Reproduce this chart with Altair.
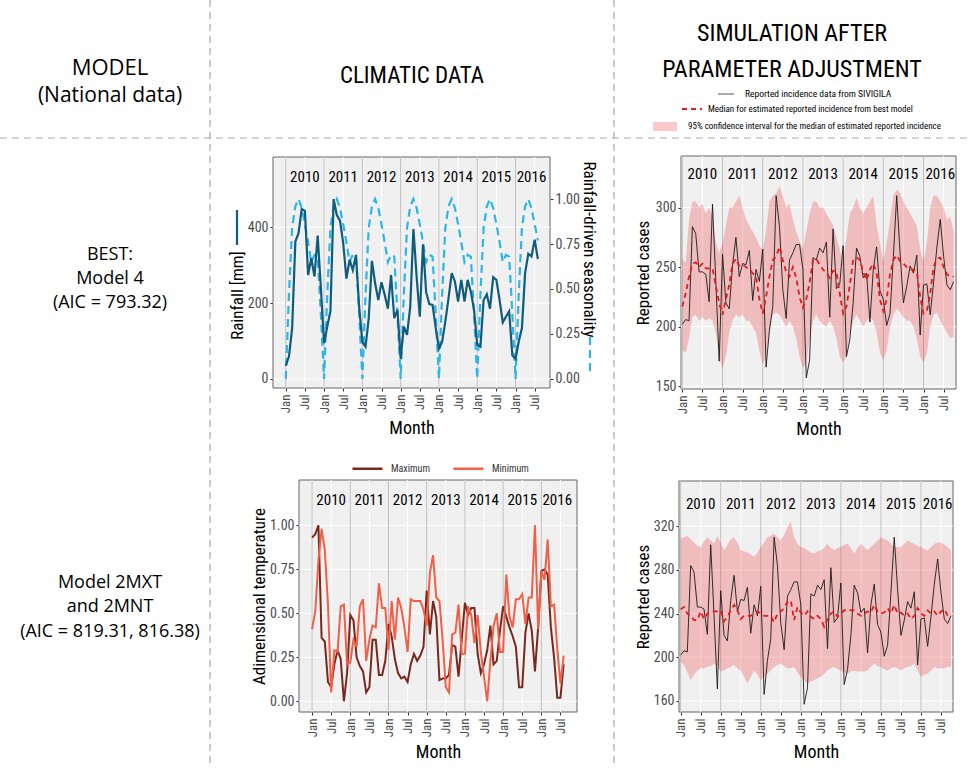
import altair as alt
import pandas as pd

# ------------------------------------------------------------------ data
years = ["2010", "2011", "2012", "2013", "2014", "2015", "2016"]
year_label_month = [6, 18, 30, 42, 54, 66, 77]
year_start_month = [0, 12, 24, 36, 48, 60, 72]
tick_months = [0, 6, 12, 18, 24, 30, 36, 42, 48, 54, 60, 66, 72, 78]

# monthly rainfall (mm), Jan 2010 - Aug 2016
rainfall_mm = [35, 59, 134, 362, 384, 448, 443, 274, 318, 270, 378, 240,
               94, 138, 179, 474, 432, 417, 358, 264, 314, 287, 327, 190,
               97, 85, 160, 311, 252, 208, 255, 222, 185, 274, 160, 182,
               53, 138, 116, 190, 395, 270, 164, 355, 228, 197, 195, 134,
               80, 98, 151, 213, 279, 257, 204, 261, 204, 261, 230, 182,
               90, 85, 208, 223, 185, 268, 261, 208, 149, 164, 178, 62,
               53, 98, 134, 279, 330, 323, 367, 316]
# rainfall-driven seasonality
seasonality = [0.0, 0.47, 0.84, 0.96, 1.0, 0.95, 0.86, 0.76, 0.65, 0.69, 0.68, 0.36,
               0.0, 0.47, 0.84, 0.96, 1.0, 0.95, 0.86, 0.76, 0.65, 0.69, 0.68, 0.36,
               0.0, 0.47, 0.84, 0.96, 1.0, 0.95, 0.86, 0.76, 0.65, 0.69, 0.68, 0.36,
               0.0, 0.47, 0.84, 0.96, 1.0, 0.95, 0.86, 0.76, 0.65, 0.69, 0.68, 0.36,
               0.0, 0.47, 0.84, 0.96, 1.0, 0.95, 0.86, 0.76, 0.65, 0.69, 0.68, 0.36,
               0.0, 0.47, 0.84, 0.96, 1.0, 0.95, 0.86, 0.76, 0.65, 0.69, 0.68, 0.36,
               0.0, 0.47, 0.84, 0.96, 1.0, 0.95, 0.86, 0.77]
# reported incidence (SIVIGILA), Jan 2010 - Oct 2016
reported = [202, 206, 205, 284, 278, 246, 246, 244, 221, 303, 238, 171,
            261, 220, 215, 252, 275, 242, 253, 252, 264, 222, 248, 238,
            265, 166, 197, 217, 310, 284, 231, 207, 256, 262, 269, 269,
            248, 157, 172, 258, 256, 266, 262, 271, 208, 282, 232, 236,
            268, 175, 189, 220, 266, 259, 241, 245, 204, 248, 267, 230,
            223, 201, 211, 259, 310, 262, 220, 234, 251, 245, 260, 193,
            235, 236, 210, 237, 267, 290, 259, 235, 231, 238]
# best model (Model 4)
best_median = [217, 228, 242, 253, 254, 250, 253, 249, 249, 249, 234, 220,
               210, 223, 235, 253, 257, 251, 252, 250, 248, 245, 242, 223,
               211, 225, 242, 256, 259, 267, 256, 246, 242, 250, 241, 225,
               216, 223, 237, 256, 257, 252, 248, 245, 241, 247, 246, 228,
               211, 217, 235, 256, 258, 256, 246, 239, 248, 253, 245, 223,
               213, 223, 244, 256, 260, 255, 253, 250, 248, 248, 246, 225,
               211, 213, 228, 250, 257, 258, 250, 244, 242, 242]
best_upper = [257, 254, 290, 305, 305, 300, 303, 295, 300, 293, 270, 262,
              270, 285, 300, 300, 305, 310, 300, 290, 285, 280, 275, 268,
              265, 280, 305, 310, 312, 318, 310, 300, 303, 290, 280, 272,
              265, 280, 295, 305, 305, 300, 300, 295, 290, 285, 275, 265,
              255, 275, 295, 300, 308, 300, 295, 300, 305, 310, 285, 270,
              255, 270, 290, 310, 315, 312, 305, 300, 295, 290, 285, 265,
              255, 270, 300, 310, 310, 305, 300, 290, 292, 280]
best_lower = [180, 178, 190, 208, 210, 205, 208, 205, 207, 205, 195, 175,
              165, 175, 195, 205, 210, 208, 210, 205, 205, 200, 195, 180,
              168, 175, 195, 210, 212, 210, 205, 200, 205, 200, 190, 175,
              165, 170, 190, 205, 210, 205, 202, 200, 205, 200, 190, 175,
              170, 175, 195, 205, 210, 205, 200, 205, 208, 205, 195, 178,
              172, 180, 200, 210, 215, 212, 208, 205, 205, 200, 190, 175,
              170, 178, 200, 210, 212, 205, 200, 195, 190, 192]
# adimensional temperature, Jan 2010 - Aug 2016
temp_max = [0.93, 0.95, 1.0, 0.36, 0.34, 0.11, 0.08, 0.21, 0.29, 0.24, 0.0, 0.16,
            0.49, 0.46, 0.25, 0.20, 0.17, 0.05, 0.08, 0.35, 0.35, 0.15, 0.15, 0.23,
            0.44, 0.37, 0.24, 0.16, 0.13, 0.14, 0.11, 0.21, 0.27, 0.23, 0.26, 0.31,
            0.63, 0.38, 0.57, 0.48, 0.12, 0.13, 0.13, 0.15, 0.32, 0.31, 0.14, 0.35,
            0.56, 0.49, 0.53, 0.53, 0.27, 0.16, 0.21, 0.29, 0.43, 0.21, 0.23, 0.40,
            0.54, 0.48, 0.42, 0.37, 0.31, 0.08, 0.08, 0.39, 0.50, 0.40, 0.17, 0.42,
            0.74, 0.75, 0.72, 0.42, 0.25, 0.02, 0.02, 0.21]
temp_min = [0.41, 0.51, 0.80, 0.98, 0.86, 0.55, 0.05, 0.29, 0.28, 0.54, 0.55, 0.21,
            0.22, 0.35, 0.31, 0.54, 0.58, 0.23, 0.35, 0.43, 0.42, 0.67, 0.53, 0.53,
            0.29, 0.57, 0.35, 0.59, 0.53, 0.42, 0.28, 0.58, 0.57, 0.57, 0.57, 0.52,
            0.43, 0.73, 0.83, 0.59, 0.57, 0.35, 0.08, 0.05, 0.38, 0.39, 0.55, 0.27,
            0.27, 0.54, 0.49, 0.33, 0.49, 0.28, 0.14, 0.0, 0.23, 0.43, 0.50, 0.28,
            0.28, 0.72, 0.48, 0.42, 0.58, 0.58, 0.61, 0.44, 0.59, 0.59, 1.0, 0.41,
            0.74, 0.69, 0.92, 0.54, 0.55, 0.30, 0.10, 0.26]
# Model 2MXT / 2MNT
mxt_median = [244, 246, 240, 238, 234, 234, 242, 235, 240, 241, 242, 242,
              243, 233, 237, 243, 248, 243, 235, 238, 238, 238, 240, 242,
              240, 238, 238, 238, 232, 240, 242, 245, 251, 252, 234, 246,
              241, 238, 242, 237, 235, 238, 235, 228, 235, 240, 242, 237,
              240, 243, 244, 243, 243, 240, 238, 240, 242, 241, 248, 242,
              240, 241, 245, 240, 248, 240, 241, 238, 240, 235, 238, 245,
              240, 238, 243, 240, 242, 238, 242, 244, 238, 240]
mxt_upper = [309, 310, 311, 308, 305, 302, 301, 306, 310, 307, 304, 311,
             305, 298, 303, 308, 310, 305, 298, 297, 296, 294, 292, 296,
             301, 305, 310, 311, 313, 310, 307, 312, 319, 324, 310, 304,
             301, 300, 298, 296, 295, 297, 298, 300, 304, 300, 298, 300,
             301, 303, 304, 300, 295, 300, 304, 301, 298, 301, 304, 307,
             310, 308, 307, 304, 301, 301, 301, 304, 307, 305, 304, 302,
             301, 299, 298, 301, 304, 305, 305, 303, 301, 298]
mxt_lower = [196, 193, 186, 179, 184, 188, 190, 190, 191, 192, 194, 192,
             187, 188, 190, 191, 193, 190, 188, 182, 176, 182, 188, 184,
             179, 182, 185, 188, 191, 193, 194, 192, 190, 190, 191, 186,
             182, 179, 176, 178, 179, 181, 182, 185, 188, 190, 191, 189,
             188, 186, 185, 187, 188, 187, 187, 187, 188, 191, 194, 192,
             191, 189, 188, 190, 191, 190, 188, 190, 191, 192, 194, 188,
             182, 184, 185, 188, 191, 190, 190, 190, 191, 191]

# ------------------------------------------------------------------ styles
W, H = 970, 768
FONT_C = "Liberation Sans Narrow, Roboto Condensed, DejaVu Sans Condensed, sans-serif"
FONT_R = "Open Sans, Noto Sans, sans-serif"
BG = "#F0F0F0"
one = pd.DataFrame({"k": [0]})


def scales(xdom, xr, ydom, yr):
    return (alt.Scale(domain=xdom, range=xr, nice=False, zero=False),
            alt.Scale(domain=ydom, range=yr, nice=False, zero=False))


def month_axis(bottom_px):
    return alt.Axis(
        orient="bottom", offset=bottom_px - H, values=tick_months,
        labelExpr="datum.value % 12 == 0 ? 'Jan' : 'Jul'",
        labelAngle=270, labelAlign="right", labelBaseline="middle",
        labelFontSize=13, labelPadding=3, labelFlush=False, labelOverlap=False,
        grid=False, title="Month", titleFontSize=18, titleY=40, titleBaseline="middle",
    )


def value_axis(px, values, title, title_dx, orient="left", fmt=None, title_y=None):
    kw = dict(orient=orient, offset=(-px if orient == "left" else px - W), values=values,
              labelFontSize=14, labelFlush=False, labelOverlap=False, grid=False,
              title=title, titleFontSize=17, titleX=title_dx, titleBaseline="middle")
    if fmt:
        kw["format"] = fmt
    if title_y is not None:
        kw["titleY"] = title_y
    return alt.Axis(**kw)


def xd(v, xs):
    return alt.XDatum(v, scale=xs, axis=None, type="quantitative")


def yd(v, ys):
    return alt.YDatum(v, scale=ys, axis=None, type="quantitative")


def panel_base(xs, ys, xdom, ydom, yvals, ylab_v):
    bg = alt.Chart(one).mark_rect(fill=BG, stroke="#646464", strokeWidth=1).encode(
        x=xd(xdom[0], xs), x2=alt.X2Datum(xdom[1]), y=yd(ydom[0], ys), y2=alt.Y2Datum(ydom[1]))
    gy = alt.Chart(pd.DataFrame({"v": yvals})).mark_rule(color="white", strokeWidth=1).encode(
        y=alt.Y("v:Q", scale=ys, axis=None), x=xd(xdom[0], xs), x2=alt.X2Datum(xdom[1]))
    gx = alt.Chart(pd.DataFrame({"m": tick_months})).mark_rule(color="white", strokeWidth=1).encode(
        x=alt.X("m:Q", scale=xs, axis=None), y=yd(ydom[0], ys), y2=alt.Y2Datum(ydom[1]))
    vl = alt.Chart(pd.DataFrame({"m": year_start_month})).mark_rule(color="#BDBDBD", strokeWidth=1).encode(
        x=alt.X("m:Q", scale=xs, axis=None), y=yd(ydom[0], ys), y2=alt.Y2Datum(ydom[1]))
    ylab = alt.Chart(pd.DataFrame({"m": year_label_month, "v": [ylab_v] * len(years), "year": years})
                     ).mark_text(font=FONT_C, fontSize=15, color="black", baseline="middle").encode(
        x=alt.X("m:Q", scale=xs, axis=None), y=alt.Y("v:Q", scale=ys, axis=None), text="year:N")
    return [bg, gy, gx, vl, ylab]


def txt(s, x, y, size, font, align="center", color="black"):
    return alt.Chart(one).mark_text(
        text=s, fontSize=size, font=font, align=align, baseline="middle", color=color
    ).encode(x=alt.value(x), y=alt.value(y))


def hrule(x1, x2, y, **kw):
    return alt.Chart(one).mark_rule(**kw).encode(x=alt.value(x1), x2=alt.value(x2), y=alt.value(y))


def vrule(x, y1, y2, **kw):
    return alt.Chart(one).mark_rule(**kw).encode(x=alt.value(x), y=alt.value(y1), y2=alt.value(y2))


layers = []

# ------------------------------------------------------------------ decorations
DASH = dict(color="#A8A8A8", strokeDash=[7, 5], strokeWidth=1.2)
layers += [
    hrule(0, 970, 138, **DASH),
    vrule(210, 0, 768, **DASH),
    vrule(614, 0, 768, **DASH),
    txt("MODEL", 110, 68, 22, FONT_R),
    txt("(National data)", 110, 96, 21, FONT_R),
    txt("CLIMATIC DATA", 412, 76, 23, FONT_C),
    txt("SIMULATION AFTER", 792, 34, 24, FONT_C),
    txt("PARAMETER ADJUSTMENT", 792, 70, 24, FONT_C),
    hrule(718, 734, 94, color="#555555", strokeWidth=1),
    txt("Reported incidence data from SIVIGILA", 745, 94, 9.5, FONT_C, align="left"),
    hrule(682, 702, 109, color="#E41A1C", strokeWidth=1.8, strokeDash=[5, 4]),
    txt("Median for estimated reported incidence from best model", 708, 109, 9, FONT_C, align="left"),
    alt.Chart(one).mark_rect(color="#F01E1E", opacity=0.24).encode(
        x=alt.value(653), x2=alt.value(677), y=alt.value(122), y2=alt.value(131)),
    txt("95% confidence interval for the median of estimated reported incidence", 688, 126, 9, FONT_C, align="left"),
    txt("BEST:", 110, 255, 18, FONT_R),
    txt("Model 4", 110, 279, 18, FONT_R),
    txt("(AIC = 793.32)", 110, 303, 18, FONT_R),
    txt("Model 2MXT", 110, 583, 18, FONT_R),
    txt("and 2MNT", 110, 607, 18, FONT_R),
    txt("(AIC = 819.31, 816.38)", 110, 632, 18, FONT_R),
]

# ------------------------------------------------------------------ panel 1: rainfall
x1dom, y1dom = [-4, 82.8], [-24, 585]
xs1, ys1 = scales(x1dom, [273, 550], y1dom, [388, 157])
ys1s = alt.Scale(domain=[-0.0506, 1.234], range=[388, 157], nice=False, zero=False)
rain_df = pd.DataFrame({"m": list(range(len(rainfall_mm))), "v": rainfall_mm})
seas_df = pd.DataFrame({"m": list(range(len(seasonality))), "v": seasonality})
layers += panel_base(xs1, ys1, x1dom, y1dom, [0, 200, 400], 533)
layers += [
    alt.Chart(seas_df).mark_line(color="#2BB5E8", strokeWidth=2.2, strokeDash=[8, 5]).encode(
        x=alt.X("m:Q", scale=xs1, axis=None),
        y=alt.Y("v:Q", scale=ys1s,
                axis=value_axis(550, [0, 0.25, 0.5, 0.75, 1.0], "Rainfall-driven seasonality", 38,
                                orient="right", fmt=".2f", title_y=249))),
    alt.Chart(rain_df).mark_line(color="#0F5C7D", strokeWidth=2.2).encode(
        x=alt.X("m:Q", scale=xs1, axis=month_axis(388)),
        y=alt.Y("v:Q", scale=ys1, axis=value_axis(273, [0, 200, 400], "Rainfall [mm]", -36, title_y=295))),
    vrule(237, 210, 245, color="#0F5C7D", strokeWidth=2.2),
    vrule(590, 337, 373, color="#2BB5E8", strokeWidth=2.2, strokeDash=[8, 5]),
]


# ------------------------------------------------------------------ simulation panels
def sim_panel(median, upper, lower, xdom, xr, ydom, yr, yvals, ylab_v, title_dx):
    xs, ys = scales(xdom, xr, ydom, yr)
    n = len(reported)
    df = pd.DataFrame({"m": list(range(n)), "v": median, "hi": upper, "lo": lower})
    obs = pd.DataFrame({"m": list(range(n)), "v": reported})
    out = panel_base(xs, ys, xdom, ydom, yvals, ylab_v)
    out.insert(4, alt.Chart(df).mark_area(color="#F01E1E", opacity=0.24).encode(
        x=alt.X("m:Q", scale=xs, axis=None), y=alt.Y("hi:Q", scale=ys, axis=None), y2="lo:Q"))
    out += [
        alt.Chart(obs).mark_line(color="#1A1A1A", strokeWidth=0.9).encode(
            x=alt.X("m:Q", scale=xs, axis=month_axis(yr[0])),
            y=alt.Y("v:Q", scale=ys, axis=value_axis(xr[0], yvals, "Reported cases", title_dx))),
        alt.Chart(df).mark_line(color="#E41A1C", strokeWidth=1.8, strokeDash=[5, 4]).encode(
            x=alt.X("m:Q", scale=xs, axis=None), y=alt.Y("v:Q", scale=ys, axis=None)),
    ]
    return out


layers += sim_panel(best_median, best_upper, best_lower, [-0.4, 81.7], [681, 956],
                    [147.7, 343.3], [389, 156], [150, 200, 250, 300], 328, -38)
layers += sim_panel(mxt_median, mxt_upper, mxt_lower, [-0.5, 81.6], [679, 953],
                    [149.9, 361.4], [712, 481], [160, 200, 240, 280, 320], 340.7, -36)

# ------------------------------------------------------------------ panel 3: temperature
x3dom, y3dom = [-4.1, 83.2], [-0.061, 1.258]
xs3, ys3 = scales(x3dom, [299, 577], y3dom, [712, 480])
nT = len(temp_max)
temp_df = pd.DataFrame({
    "m": list(range(nT)) * 2,
    "v": temp_max + temp_min,
    "series": ["Maximum"] * nT + ["Minimum"] * nT,
})
layers += panel_base(xs3, ys3, x3dom, y3dom, [0, 0.25, 0.5, 0.75, 1.0], 1.144)
layers += [
    alt.Chart(temp_df).mark_line(strokeWidth=2).encode(
        x=alt.X("m:Q", scale=xs3, axis=month_axis(712)),
        y=alt.Y("v:Q", scale=ys3, axis=value_axis(299, [0, 0.25, 0.5, 0.75, 1.0],
                                                   "Adimensional temperature", -40, fmt=".2f")),
        color=alt.Color("series:N",
                        scale=alt.Scale(domain=["Maximum", "Minimum"], range=["#7A281D", "#F25F47"]),
                        legend=alt.Legend(orient="none", legendX=351, legendY=452, direction="horizontal",
                                          title=None, symbolType="stroke", symbolStrokeWidth=2.5,
                                          symbolSize=900, labelFont=FONT_C, labelFontSize=10,
                                          labelColor="#333333", columnPadding=18, labelOffset=7,
                                          padding=0)),
    ),
]

chart = alt.layer(*layers).resolve_scale(
    x="independent", y="independent"
).properties(
    width=W, height=H, padding=0, autosize=alt.AutoSizeParams(type="none")
).configure(background="white").configure_view(strokeWidth=0).configure_axis(
    labelFont=FONT_C, labelColor="#4D4D4D", titleFont=FONT_C, titleColor="black",
    titleFontWeight="normal", tickColor="#333333", tickSize=3, domain=False,
)

chart.save("out.html", embed_options={"renderer": "svg", "actions": False})
